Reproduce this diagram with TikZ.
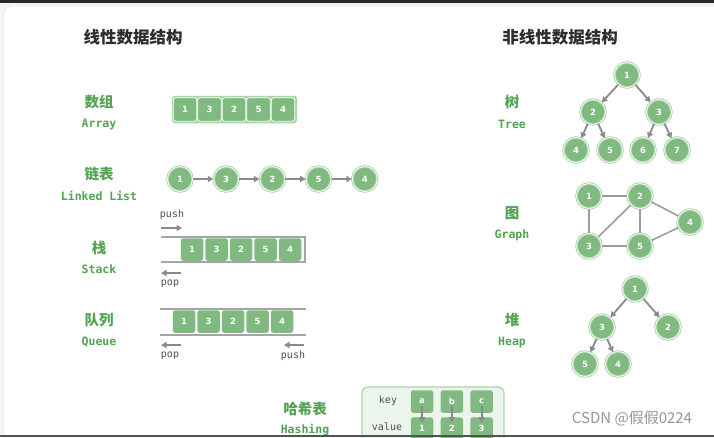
\documentclass[tikz,border=0pt]{standalone}
\usepackage{fontspec}
\setmainfont{DejaVu Sans}
\newfontfamily\cjk{Noto Sans CJK SC}
\newfontfamily\monof{DejaVu Sans Mono}
\usetikzlibrary{arrows.meta}
\definecolor{gfill}{RGB}{128,186,128}
\definecolor{gring}{RGB}{170,212,170}
\definecolor{glabel}{RGB}{82,164,82}
\definecolor{glight}{RGB}{236,245,236}
\definecolor{arrc}{RGB}{138,138,138}
\definecolor{railc}{RGB}{165,165,165}
\definecolor{titlec}{RGB}{45,45,45}
\definecolor{bgc}{RGB}{244,244,244}
\definecolor{barc}{RGB}{40,40,40}
\definecolor{cardline}{RGB}{222,222,222}
\definecolor{smallc}{RGB}{80,80,80}
\definecolor{wmc}{RGB}{150,150,150}
\tikzset{
  title/.style={font=\cjk\bfseries\fontsize{16.5}{18}\selectfont, text=titlec, inner sep=0pt},
  cnlab/.style={font=\cjk\bfseries\fontsize{14.5}{16}\selectfont, text=glabel, inner sep=0pt},
  enlab/.style={font=\monof\bfseries\fontsize{11.5}{12}\selectfont, text=glabel, inner sep=0pt},
  small/.style={font=\monof\fontsize{10}{11}\selectfont, text=smallc, inner sep=0pt},
  circ/.style={circle, fill=gfill, draw=gring, double=white, double distance=0.7pt, line width=0.9pt, minimum size=25pt, inner sep=0pt, text=white, font=\bfseries\fontsize{8.5}{9}\selectfont},
  cell/.style={rectangle, rounded corners=2.5pt, fill=gfill, minimum width=22.5pt, minimum height=22.5pt, inner sep=0pt, text=white, font=\bfseries\fontsize{8.5}{9}\selectfont},
  acell/.style={cell, draw=white, line width=0.8pt, minimum width=23.5pt, minimum height=23.5pt},
  arr/.style={draw=arrc, line width=1.8pt, -{Triangle[length=5.5pt,width=6pt]}},
  gedge/.style={draw=arrc!85, line width=1.6pt},
  rail/.style={draw=railc, line width=1.3pt},
}
\begin{document}
\begin{tikzpicture}[x=1pt,y=-1pt]
\clip (0,0) rectangle (714,437);
\fill[bgc] (0,0) rectangle (714,437);
\draw[fill=white, draw=cardline, rounded corners=8pt] (4,6) rectangle (740,445);
\fill[barc] (0,0) rectangle (714,3);

% titles
\node[title] (tl) at (133,37) {线性数据结构};
\node[title] (tr) at (560,37) {非线性数据结构};

% labels left
\node[cnlab] (arrcn) at (99,102) {数组};
\node[enlab] (arren) at (99,124) {Array};
\node[cnlab] (llcn) at (99,174) {链表};
\node[enlab] (llen) at (99,196) {Linked List};
\node[cnlab] (stcn) at (99,248) {栈};
\node[enlab] (sten) at (99,269) {Stack};
\node[cnlab] (qucn) at (99,320) {队列};
\node[enlab] (quen) at (99,342) {Queue};
\node[cnlab] (hacn) at (305,409) {哈希表};
\node[enlab] (haen) at (305,430) {Hashing};

% labels right
\node[cnlab] (trcn) at (512,102) {树};
\node[enlab] (tren) at (512,124) {Tree};
\node[cnlab] (grcn) at (512,213) {图};
\node[enlab] (gren) at (512,235) {Graph};
\node[cnlab] (hpcn) at (512,320) {堆};
\node[enlab] (hpen) at (512,342) {Heap};

% array
\node[rectangle, rounded corners=3pt, fill=gring, minimum width=125pt, minimum height=27.5pt, inner sep=0pt] (arrbox) at (234.5,109.5) {};
\foreach \v [count=\i from 0] in {1,3,2,5,4}
  \node[acell] (a\i) at ({185+24.5*\i},109.5) {\v};

% linked list
\foreach \v [count=\i from 0] in {1,3,2,5,4}
  \node[circ] (l\i) at ({180+46.2*\i},179) {\v};
\draw[arr] (l0) -- (l1);
\draw[arr] (l1) -- (l2);
\draw[arr] (l2) -- (l3);
\draw[arr] (l3) -- (l4);

% stack
\coordinate (stl) at (161,237);
\coordinate (str) at (305,237);
\coordinate (sbr) at (305,262);
\coordinate (sbl) at (161,262);
\draw[rail] (stl) -- (str) -- (sbr) -- (sbl);
\foreach \v [count=\i from 0] in {1,3,2,5,4}
  \node[cell] (s\i) at ({192+24.5*\i},249.5) {\v};
\node[small] (spush) at (172,215) {push};
\coordinate (sp1) at (161,228);
\coordinate (sp2) at (182,228);
\draw[arr] (sp1) -- (sp2);
\coordinate (so1) at (181,273);
\coordinate (so2) at (161,273);
\draw[arr] (so1) -- (so2);
\node[small] (spop) at (170,284) {pop};

% queue
\coordinate (qtl) at (160,309);
\coordinate (qtr) at (306,309);
\coordinate (qbl) at (160,335);
\coordinate (qbr) at (306,335);
\draw[rail] (qtl) -- (qtr);
\draw[rail] (qbl) -- (qbr);
\foreach \v [count=\i from 0] in {1,3,2,5,4}
  \node[cell] (q\i) at ({184+24.5*\i},321.5) {\v};
\coordinate (qo1) at (181,345);
\coordinate (qo2) at (161,345);
\draw[arr] (qo1) -- (qo2);
\node[small] (qpop) at (170,356) {pop};
\coordinate (qp1) at (304,345);
\coordinate (qp2) at (284,345);
\draw[arr] (qp1) -- (qp2);
\node[small] (qpush) at (293,356) {push};

% hashing
\draw[fill=glight, draw=gring, line width=1.2pt, rounded corners=6pt] (362,387) rectangle (504,450);
\node[small, text=smallc] (hkey) at (388,401) {key};
\node[small, text=smallc] (hval) at (387,427) {value};
\foreach \k/\v [count=\i from 0] in {a/1,b/2,c/3} {
  \node[cell] (hk\i) at ({422+29.8*\i},401.5) {\k};
  \node[cell] (hv\i) at ({422+29.8*\i},428.5) {\v};
}
\foreach \i in {0,1,2}
  \draw[arr] ([yshift=-4pt]hk\i.center) -- ([yshift=6pt]hv\i.center);

% tree
\node[circ] (t1) at (627,75) {1};
\node[circ] (t2) at (593,112) {2};
\node[circ] (t3) at (659,112) {3};
\node[circ] (t4) at (576,150) {4};
\node[circ] (t5) at (610,150) {5};
\node[circ] (t6) at (643,150) {6};
\node[circ] (t7) at (677,150) {7};
\draw[arr] (t1) -- (t2);
\draw[arr] (t1) -- (t3);
\draw[arr] (t2) -- (t4);
\draw[arr] (t2) -- (t5);
\draw[arr] (t3) -- (t6);
\draw[arr] (t3) -- (t7);

% graph
\node[circ] (g1) at (589,196) {1};
\node[circ] (g2) at (640,196) {2};
\node[circ] (g3) at (589,246) {3};
\node[circ] (g5) at (640,246) {5};
\node[circ] (g4) at (690,222) {4};
\draw[gedge] (g1) -- (g2);
\draw[gedge] (g1) -- (g3);
\draw[gedge] (g3) -- (g2);
\draw[gedge] (g2) -- (g5);
\draw[gedge] (g3) -- (g5);
\draw[gedge] (g2) -- (g4);
\draw[gedge] (g5) -- (g4);

% heap
\node[circ] (h1) at (635,289) {1};
\node[circ] (h3) at (602,327) {3};
\node[circ] (h2) at (668,327) {2};
\node[circ] (h5) at (585,364) {5};
\node[circ] (h4) at (618,364) {4};
\draw[arr] (h1) -- (h3);
\draw[arr] (h1) -- (h2);
\draw[arr] (h3) -- (h5);
\draw[arr] (h3) -- (h4);

% watermark
\node[font=\cjk\fontsize{15}{16}\selectfont, text=wmc, inner sep=0pt] (wm) at (632,419) {CSDN @假假0224};

% bottom line
\fill[barc!80] (0,434.5) rectangle (714,437);
\end{tikzpicture}
\end{document}
